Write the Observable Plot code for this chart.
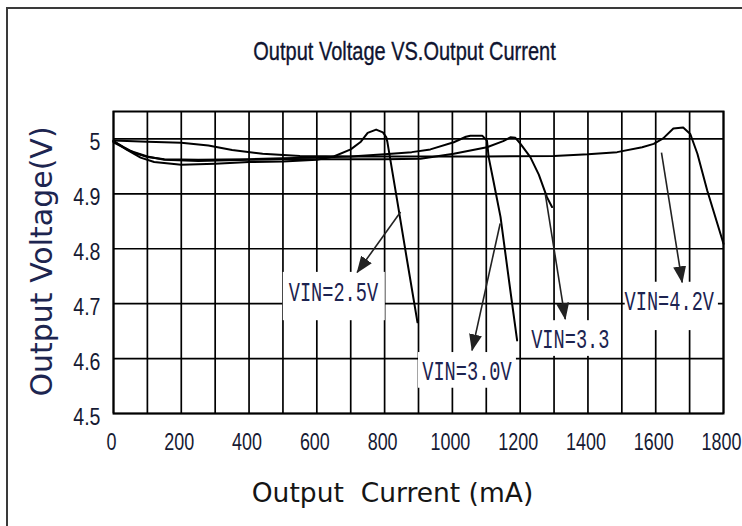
<!DOCTYPE html>
<html><head><meta charset="utf-8">
<script src="https://cdn.jsdelivr.net/npm/d3@7"></script>
<script src="https://cdn.jsdelivr.net/npm/@observablehq/plot@0.6"></script>
<style>
html,body{margin:0;padding:0;background:#fff;}
#wrap{position:relative;width:742px;height:526px;overflow:hidden;background:#fff;}
#border{position:absolute;left:6px;top:7px;width:800px;height:600px;border-left:2px solid #3a3a3a;border-top:2px solid #3a3a3a;}
#wrap svg{position:absolute;left:0;top:0;}
svg text{white-space:pre;}
</style></head><body>
<div id="wrap"><div id="border"></div></div>
<script>
// ---- text ----
const chartTitle = "Output Voltage VS.Output Current";
const xLabel = "Output  Current (mA)";
const yLabel = "Output Voltage(V)";

// ---- ticks ----
const xTickLabels = [0, 200, 400, 600, 800, 1000, 1200, 1400, 1600, 1800];
const xGridTicks = [0, 100, 200, 300, 400, 500, 600, 700, 800, 900, 1000, 1100, 1200, 1300, 1400, 1500, 1600, 1700, 1800];
const yTicks = [4.5, 4.6, 4.7, 4.8, 4.9, 5.0];
const yTickLabels = ["4.5", "4.6", "4.7", "4.8", "4.9", "5"];

// ---- series: [current mA, voltage V] ----
const vin25 = [[0,4.996],[40,4.98],[80,4.966],[120,4.958],[200,4.953],[300,4.955],[400,4.958],[500,4.959],[600,4.962],[650,4.968],[700,4.981],[730,4.995],[750,5.011],[775,5.017],[795,5.012],[805,5.003],[808,4.995],[837,4.888],[866,4.78],[897,4.666]];
const vin30 = [[0,4.996],[30,4.985],[60,4.975],[100,4.967],[150,4.963],[250,4.962],[400,4.963],[500,4.965],[600,4.966],[700,4.968],[800,4.972],[880,4.976],[935,4.981],[1004,4.994],[1040,5.004],[1053,5.006],[1088,5.006],[1102,4.997],[1107,4.967],[1121,4.924],[1142,4.858],[1171,4.724],[1191,4.633]];
const vin33 = [[0,4.994],[50,4.978],[100,4.968],[150,4.962],[250,4.96],[400,4.962],[500,4.963],[600,4.963],[700,4.963],[800,4.963],[906,4.964],[1004,4.973],[1102,4.985],[1150,4.996],[1171,5.003],[1186,5.002],[1201,4.991],[1230,4.967],[1255,4.935],[1279,4.894],[1294,4.876]];
const vin42 = [[0,4.997],[100,4.995],[200,4.993],[280,4.988],[350,4.98],[440,4.973],[550,4.969],[700,4.968],[900,4.968],[1100,4.968],[1300,4.969],[1400,4.972],[1486,4.976],[1560,4.985],[1594,4.991],[1622,5.001],[1652,5.019],[1681,5.021],[1702,5.009],[1723,4.973],[1752,4.906],[1800,4.809]];
const seriesNames = ["VIN=2.5V", "VIN=3.0V", "VIN=3.3", "VIN=4.2V"];
const seriesData = [vin25, vin30, vin33, vin42];

// ---- annotations (data units) ----
const labelText = ["VIN=2.5V", "VIN=3.0V", "VIN=3.3", "VIN=4.2V"];
const labelAt = [[649, 4.720], [1043, 4.577], [1348, 4.635], [1640, 4.704]];
const labelBox = [[501, 802, 4.669, 4.757], [900, 1189, 4.546, 4.611], [1215, 1481, 4.604, 4.669], [1510, 1785, 4.651, 4.739]];
const arrowFrom = [[847, 4.867], [1141, 4.846], [1274, 4.900], [1617, 4.975]];
const arrowTo = [[719, 4.757], [1058, 4.615], [1333, 4.672], [1678, 4.739]];

// ---- build tables ----
const lineRows = seriesData.flatMap((pts, i) => pts.map(([x, y]) => ({vin: seriesNames[i], x, y})));
const boxRows = labelBox.map(([x1, x2, y1, y2]) => ({x1, x2, y1, y2}));
const arrowRows = arrowFrom.map(([x1, y1], i) => ({x1, y1, x2: arrowTo[i][0], y2: arrowTo[i][1]}));
const labelRows = labelText.map((t, i) => ({text: t, x: labelAt[i][0], y: labelAt[i][1]}));

const ink = "#161a33";
const sansFam = "'Liberation Sans', Arial, sans-serif";
const monoFam = "'Liberation Mono', 'DejaVu Sans Mono', monospace";
const dvFam = "'DejaVu Sans', sans-serif";

const svg = Plot.plot({
  width: 742, height: 526,
  marginLeft: 113, marginRight: 19, marginTop: 111, marginBottom: 113,
  x: {domain: [0, 1800], label: null},
  y: {domain: [4.5, 5.05], label: null},
  style: {background: "transparent", fontFamily: sansFam, fontSize: "23px", color: ink},
  marks: [
    Plot.gridX({ticks: xGridTicks, stroke: "#000", strokeOpacity: 1, strokeWidth: 1.7}),
    Plot.gridY({ticks: yTicks, stroke: "#000", strokeOpacity: 1, strokeWidth: 1.7}),
    Plot.rect(boxRows, {x1: "x1", x2: "x2", y1: "y1", y2: "y2", fill: "#fff"}),
    Plot.frame({stroke: "#000", strokeWidth: 2}),
    Plot.axisX({ticks: xTickLabels, tickSize: 0, tickPadding: 20, label: null, fill: ink, fontSize: 23, dx: -2,
      tickFormat: (d) => String(d), ariaDescription: "xticks"}),
    Plot.axisY({ticks: yTicks, tickSize: 0, tickPadding: 13, label: null, dy: 4, fill: ink, fontSize: 23,
      tickFormat: (d) => yTickLabels[yTicks.findIndex((t) => Math.abs(t - d) < 1e-9)], ariaDescription: "yticks"}),
    Plot.line(lineRows, {x: "x", y: "y", z: "vin", stroke: "#000", strokeWidth: 2, curve: "linear"}),
    Plot.link(arrowRows, {x1: "x1", y1: "y1", x2: "x2", y2: "y2", stroke: "#222", strokeWidth: 1.6, ariaDescription: "arrows"}),
    Plot.text(labelRows, {x: "x", y: "y", text: "text", fontFamily: monoFam, fontSize: 27, fill: "#1c2350", ariaDescription: "vinlabels"}),
    Plot.text([chartTitle], {frameAnchor: "top", lineAnchor: "middle", textAnchor: "middle", dx: -14, dy: -60, fontSize: 25, fill: "#0f1430", stroke: "#0f1430", strokeWidth: 0.35, ariaDescription: "title"}),
    Plot.text([xLabel], {frameAnchor: "bottom", lineAnchor: "middle", textAnchor: "middle", dx: -26, dy: 80, fontFamily: dvFam, fontSize: 26.5, fill: "#151515", ariaDescription: "xlabel"}),
    Plot.text([yLabel], {frameAnchor: "left", lineAnchor: "middle", textAnchor: "middle", rotate: -90, dx: -71, dy: -1, fontFamily: dvFam, fontSize: 30, fill: "#1d2550", ariaDescription: "ylabel"})
  ]
});

// arrow heads (filled triangles)
const ns = "http://www.w3.org/2000/svg";
const defs = document.createElementNS(ns, "defs");
const marker = document.createElementNS(ns, "marker");
marker.setAttribute("id", "ahead");
marker.setAttribute("markerUnits", "userSpaceOnUse");
marker.setAttribute("markerWidth", "17");
marker.setAttribute("markerHeight", "13");
marker.setAttribute("viewBox", "0 0 17 13");
marker.setAttribute("refX", "16");
marker.setAttribute("refY", "6.5");
marker.setAttribute("orient", "auto");
const mp = document.createElementNS(ns, "path");
mp.setAttribute("d", "M0,0 L17,6.5 L0,13 Z");
mp.setAttribute("fill", "#222");
marker.appendChild(mp);
defs.appendChild(marker);
svg.insertBefore(defs, svg.firstChild);
svg.querySelectorAll('[aria-description="arrows"] path, [aria-description="arrows"] line').forEach((p) => p.setAttribute("marker-end", "url(#ahead)"));

// condensed glyphs via textLength (and enforce font size)
const ctx = document.createElement("canvas").getContext("2d");
function squeeze(sel, px, family, k) {
  svg.querySelectorAll(sel).forEach((t) => {
    t.style.fontSize = px + "px";
    t.style.fontFamily = family;
    ctx.font = `${px}px ${family}`;
    const w = ctx.measureText(t.textContent).width;
    if (w > 0) {
      t.setAttribute("textLength", (w * k).toFixed(1));
      t.setAttribute("lengthAdjust", "spacingAndGlyphs");
    }
  });
}
squeeze('[aria-description="vinlabels"] text', 27, monoFam, 0.69);
squeeze('[aria-description="title"] text', 25, sansFam, 0.8);
squeeze('[aria-description="xticks"] text, [aria-label="x-axis tick label"] text', 23, sansFam, 0.78);
squeeze('[aria-description="yticks"] text, [aria-label="y-axis tick label"] text', 23, sansFam, 0.85);

document.getElementById("wrap").appendChild(svg);
</script>
</body></html>
